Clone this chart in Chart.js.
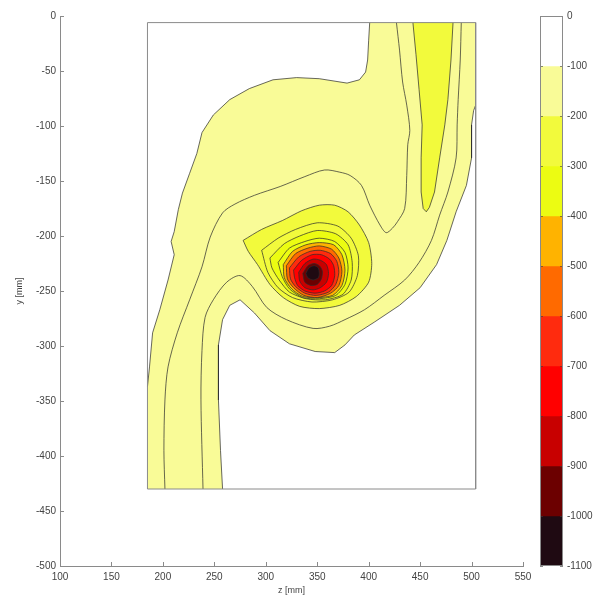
<!DOCTYPE html>
<html><head><meta charset="utf-8">
<script src="https://cdn.jsdelivr.net/npm/chart.js@4"></script>
<style>
html,body{margin:0;padding:0;background:#fff;}
#wrap{position:relative;width:608px;height:598px;overflow:hidden;}
#main{position:absolute;left:0;top:0;}
#cbar{position:absolute;left:530px;top:0;}
</style></head><body>
<div id="wrap"><canvas id="main" width="608" height="598"></canvas><canvas id="cbar" width="78" height="598"></canvas></div>
<script>
// ---------- data (z [mm], y [mm]) ----------
const zRange = [185, 504];
const yRange = [-6, -430];
const cbLevels = [0,-100,-200,-300,-400,-500,-600,-700,-800,-900,-1000,-1100];

// outer filled region (level -100)
const outer100 = [[401,-6],[504,-6],[504,-81],[502,-86],[500,-99],[500,-129],[495,-154],[485,-178],[476,-204],[466,-226],[450,-247],[430,-263],[406,-278],[386,-290],[377,-299],[367,-306],[348,-305],[323,-298],[304,-286],[289,-270],[275,-258],[265,-263],[258,-276],[254,-299],[254,-349],[256,-395],[258,-430],[185,-430],[185,-337],[187,-319],[190,-288],[197,-267],[205,-240],[211,-217],[208,-205],[211,-196],[215,-176],[219,-161],[226,-143],[233,-125],[238,-106],[249,-90],[265,-76],[284,-66],[307,-58],[330,-56],[352,-57],[379,-61],[391,-58],[397,-51],[399,-40],[400,-22]];
// intermediate contour lines inside the -100..-200 band
const lineA = [[427,-6],[430,-31],[433,-60],[437,-81],[440,-104],[438,-117],[437,-145],[435,-175],[428,-187],[423,-193],[417,-197],[411,-190],[401,-172],[393,-154],[382,-145],[372,-142],[357,-140],[338,-146],[314,-155],[289,-163],[270,-171],[258,-179],[246,-201],[238,-228],[226,-258],[214,-288],[205,-319],[202,-349],[201,-395],[202,-430]];
const lineB = [[490,-6],[489,-40],[487,-76],[486,-99],[485,-129],[477,-160],[469,-181],[461,-204],[449,-224],[435,-240],[415,-254],[396,-267],[377,-276],[362,-282],[346,-284],[320,-276],[301,-265],[287,-246],[275,-236],[262,-242],[249,-258],[241,-274],[238,-304],[237,-349],[239,-430]];
// right band (level -200)
const rightBand200 = [[443,-6],[482,-6],[480,-40],[477,-76],[474,-99],[469,-129],[464,-160],[459,-174],[456,-178],[453,-175],[451,-160],[451,-129],[452,-99],[449,-67],[446,-35]];
// rings around the minimum
const ring200 = [[278,-204],[296,-194],[316,-186],[335,-177],[352,-172],[367,-172],[380,-178],[391,-190],[400,-206],[403,-225],[400,-242],[388,-255],[372,-263],[352,-266],[333,-264],[317,-256],[304,-244],[292,-226],[283,-214]];
const ring250 = [[296,-213],[312,-202],[329,-194],[350,-188],[370,-191],[383,-202],[390,-218],[389,-236],[381,-251],[365,-258],[345,-260],[326,-256],[312,-247],[302,-233]];
const ring300 = [[304,-220],[318,-207],[333,-200],[350,-195],[368,-198],[380,-208],[384,-224],[383,-240],[375,-253],[358,-258],[339,-257],[323,-251],[313,-240],[306,-229]];
const ring350 = [[312,-224],[323,-211],[338,-205],[352,-202],[367,-205],[377,-215],[380,-229],[377,-244],[368,-254],[352,-257],[336,-256],[323,-248],[316,-237]];
const ring400 = [[317,-226],[326,-214],[339,-208],[352,-206],[366,-208],[374,-217],[377,-231],[374,-245],[365,-254],[350,-256],[336,-255],[325,-248],[318,-238]];
const ring500 = [[320,-227],[329,-216],[341,-211],[352,-209],[364,-212],[371,-220],[374,-232],[371,-245],[363,-252],[350,-256],[337,-254],[327,-247],[321,-239]];
const ring600 = [[323,-229],[332,-219],[343,-214],[353,-213],[363,-216],[369,-223],[371,-233],[368,-244],[361,-251],[349,-254],[338,-252],[329,-246],[324,-239]];
const ring700 = [[327,-231],[335,-222],[345,-217],[354,-217],[362,-221],[366,-227],[367,-236],[364,-245],[357,-250],[348,-252],[338,-250],[331,-245],[328,-238]];
const ring800 = [[332,-233],[338,-225],[346,-221],[353,-222],[359,-226],[361,-234],[359,-242],[353,-247],[346,-249],[338,-247],[333,-241]];
const ring900 = [[336,-234],[341,-227],[347,-225],[352,-227],[355,-232],[354,-239],[350,-244],[344,-245],[338,-242]];
const ring1000 = [[339,-234],[342,-229],[347,-227],[351,-229],[352,-234],[351,-238],[346,-240],[341,-238]];

// ---------- styles ----------
const bandPalette = ['#FFFFFF','#F9FB97','#F2FA3C','#ECFC12','#FFB300','#FF6A00','#FF2B0E','#FF0000','#C80000','#6C0000','#1F0A12'];
const LINE = 'rgba(45,45,45,0.9)';
const AXIS = '#8a8a8a';

Chart.defaults.font.family = '"Liberation Sans", Arial, Helvetica, sans-serif';
Chart.defaults.font.size = 10;
Chart.defaults.color = '#444';

const layers = [
  {pts: outer100, band: 1, closed: true, smooth: 0},
  {pts: lineA, band: null, closed: false, smooth: 0.3},
  {pts: lineB, band: null, closed: false, smooth: 0.3},
  {pts: rightBand200, band: 2, closed: true, smooth: 0},
  {pts: ring200, band: 2, closed: true, smooth: 0.25},
  {pts: ring250, band: 2, closed: true, smooth: 0.25},
  {pts: ring300, band: 3, closed: true, smooth: 0.25},
  {pts: ring350, band: 3, closed: true, smooth: 0.25},
  {pts: ring400, band: 4, closed: true, smooth: 0.25},
  {pts: ring500, band: 5, closed: true, smooth: 0.25},
  {pts: ring600, band: 6, closed: true, smooth: 0.25},
  {pts: ring700, band: 7, closed: true, smooth: 0.25},
  {pts: ring800, band: 8, closed: true, smooth: 0.25},
  {pts: ring900, band: 9, closed: true, smooth: 0.25},
  {pts: ring1000, band: 10, closed: true, smooth: 0.25}
];

function toXY(arr, close) {
  const d = arr.map(p => ({x: p[0], y: p[1]}));
  if (close) d.push({x: arr[0][0], y: arr[0][1]});
  return d;
}
const onEdge = (a, b) =>
  (a.x === zRange[0] && b.x === zRange[0]) || (a.x === zRange[1] && b.x === zRange[1]) ||
  (a.y === yRange[0] && b.y === yRange[0]) || (a.y === yRange[1] && b.y === yRange[1]);

const rectData = [[zRange[0], yRange[0]], [zRange[1], yRange[0]], [zRange[1], yRange[1]], [zRange[0], yRange[1]]];

const total = layers.length + 1;
const datasets = layers.map((L, i) => ({
  data: toXY(L.pts, L.closed),
  polyColor: L.band != null ? bandPalette[L.band] : null,
  showLine: true, pointRadius: 0, pointHoverRadius: 0,
  borderColor: LINE, borderWidth: 0.8,
  fill: false, tension: L.smooth,
  order: total - i,
  segment: {borderColor: c => onEdge(c.p0.parsed, c.p1.parsed) ? 'rgba(0,0,0,0)' : undefined}
}));
datasets.push({
  data: toXY(rectData, true), showLine: true, pointRadius: 0, pointHoverRadius: 0,
  borderColor: AXIS, borderWidth: 1, fill: false, tension: 0, order: 0
});

// fills each closed contour along the same path the library strokes
const polyFill = {
  id: 'polyFill',
  beforeDatasetDraw(chart, args) {
    const ds = chart.data.datasets[args.index];
    if (!ds.polyColor) return;
    const meta = args.meta, pts = meta.data, ctx = chart.ctx, a = chart.chartArea;
    const smooth = ds.tension > 0;
    if (smooth) meta.dataset.updateControlPoints(a, 'x');
    ctx.save();
    ctx.beginPath(); ctx.rect(a.left, a.top, a.right - a.left, a.bottom - a.top); ctx.clip();
    ctx.beginPath();
    ctx.moveTo(pts[0].x, pts[0].y);
    for (let i = 1; i < pts.length; i++) {
      const p = pts[i - 1], c = pts[i];
      if (smooth && p.cp2x !== undefined) ctx.bezierCurveTo(p.cp2x, p.cp2y, c.cp1x, c.cp1y, c.x, c.y);
      else ctx.lineTo(c.x, c.y);
    }
    ctx.closePath();
    ctx.fillStyle = ds.polyColor; ctx.fill();
    ctx.restore();
  }
};

const innerTicks = {
  id: 'innerTicks',
  afterDraw(chart) {
    const ctx = chart.ctx, xs = chart.scales.x, ys = chart.scales.y;
    ctx.save(); ctx.strokeStyle = AXIS; ctx.lineWidth = 1;
    xs.ticks.forEach(t => { const p = Math.round(xs.getPixelForValue(t.value)) + 0.5;
      ctx.beginPath(); ctx.moveTo(p, xs.top); ctx.lineTo(p, xs.top - 4); ctx.stroke(); });
    ys.ticks.forEach(t => { const p = Math.round(ys.getPixelForValue(t.value)) + 0.5;
      ctx.beginPath(); ctx.moveTo(ys.right, p); ctx.lineTo(ys.right + 4, p); ctx.stroke(); });
    ctx.restore();
  }
};

new Chart(document.getElementById('main'), {
  type: 'scatter',
  data: {datasets},
  options: {
    responsive: false, animation: false, devicePixelRatio: 1,
    layout: {padding: {top: 16, right: 85, left: 0, bottom: 0}},
    plugins: {legend: {display: false}, tooltip: {enabled: false}},
    scales: {
      x: {type: 'linear', min: 100, max: 550,
        ticks: {stepSize: 50, padding: 5, maxRotation: 0, autoSkip: false, callback: v => String(v)},
        grid: {display: true, drawOnChartArea: false, drawTicks: false},
        border: {display: true, color: AXIS},
        title: {display: true, text: 'z [mm]', font: {size: 9}, padding: {top: 0, bottom: 2}},
        afterFit: s => { s.height = 32; }},
      y: {type: 'linear', min: -500, max: 0,
        ticks: {stepSize: 50, padding: 4, autoSkip: false, callback: v => String(v)},
        grid: {display: true, drawOnChartArea: false, drawTicks: false},
        border: {display: true, color: AXIS},
        title: {display: true, text: 'y [mm]', font: {size: 9}, padding: {top: 14, bottom: 0}},
        afterFit: s => { s.width = 60; }}
    }
  },
  plugins: [polyFill, innerTicks]
});

// ---------- colour bar ----------
const cbFrame = {
  id: 'cbFrame',
  afterDraw(chart) {
    const ctx = chart.ctx, a = chart.chartArea, ys = chart.scales.y;
    ctx.save();
    ctx.strokeStyle = 'rgba(60,60,60,0.6)'; ctx.lineWidth = 1;
    ys.ticks.forEach(t => { const p = Math.round(ys.getPixelForValue(t.value)) + 0.5;
      ctx.beginPath(); ctx.moveTo(a.left, p); ctx.lineTo(a.left + 3, p);
      ctx.moveTo(a.right, p); ctx.lineTo(a.right - 3, p); ctx.stroke(); });
    ctx.strokeStyle = AXIS;
    ctx.strokeRect(Math.round(a.left) + 0.5, Math.round(a.top) + 0.5, Math.round(a.right - a.left) - 1, Math.round(a.bottom - a.top) - 1);
    ctx.restore();
  }
};
const cbDatasets = bandPalette.map((c, i) => ({
  data: [[cbLevels[i + 1], cbLevels[i]]],
  backgroundColor: c, borderWidth: 0, grouped: false,
  barPercentage: 1, categoryPercentage: 1
}));
new Chart(document.getElementById('cbar'), {
  type: 'bar',
  data: {labels: ['cb'], datasets: cbDatasets},
  options: {
    responsive: false, animation: false, devicePixelRatio: 1,
    layout: {padding: {left: 10, top: 16, bottom: 32, right: 0}},
    plugins: {legend: {display: false}, tooltip: {enabled: false}},
    scales: {
      x: {display: false},
      y: {position: 'right', min: -1100, max: 0,
        ticks: {stepSize: 100, padding: 4, autoSkip: false, callback: v => String(v)},
        grid: {display: true, drawOnChartArea: false, drawTicks: false},
        border: {display: false},
        afterFit: s => { s.width = 45; }}
    }
  },
  plugins: [cbFrame]
});
</script>
</body></html>
